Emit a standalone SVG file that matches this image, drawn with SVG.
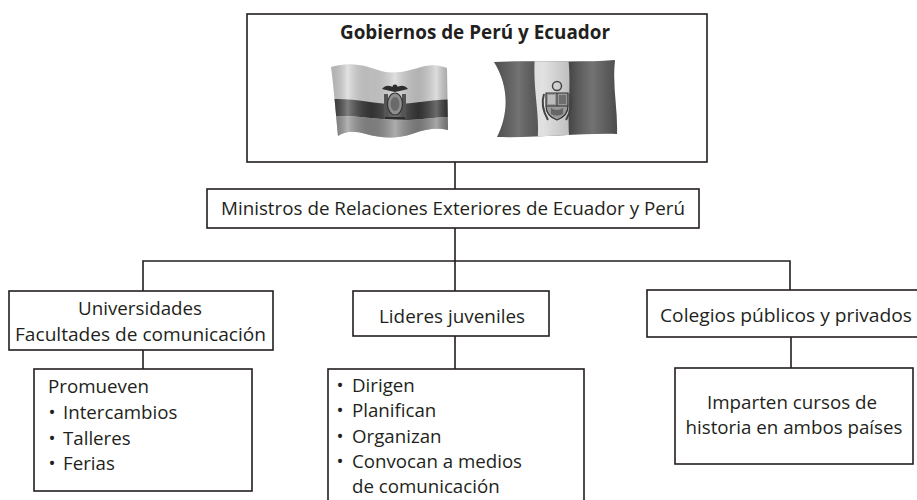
<svg xmlns="http://www.w3.org/2000/svg" width="917" height="500" viewBox="0 0 917 500">
<style>
.box{fill:#fff;stroke:#231f20;stroke-width:1.6}
.ln{fill:none;stroke:#231f20;stroke-width:1.6}
.t{font-family:"Open Sans","Noto Sans","Liberation Sans",sans-serif;font-size:18.7px;fill:#231f20}
.c{text-anchor:middle}
.b{font-weight:bold;font-size:19px}
</style>
<defs>
<clipPath id="ecClip"><path d="M331,67 C348,62 362,64 378,70 C395,76 410,70 425,66 C435,64 442,66 447,68 L448,130 C438,128 428,128 412,134 C398,139 380,138 366,134 C352,130 344,132 338,136 C336,115 334,90 331,67 Z"/></clipPath>
<clipPath id="peClip"><path d="M494,62 C530,60 580,63 615,60 C612,85 618,110 617,134 C580,133 540,138 497,137 C508,115 510,88 494,62 Z"/></clipPath>
<linearGradient id="foldEc" x1="330" y1="0" x2="448" y2="0" gradientUnits="userSpaceOnUse">
<stop offset="0" stop-color="#000" stop-opacity="0.15"/>
<stop offset="0.15" stop-color="#fff" stop-opacity="0.35"/>
<stop offset="0.35" stop-color="#000" stop-opacity="0.1"/>
<stop offset="0.55" stop-color="#fff" stop-opacity="0.3"/>
<stop offset="0.75" stop-color="#000" stop-opacity="0.15"/>
<stop offset="0.9" stop-color="#fff" stop-opacity="0.25"/>
<stop offset="1" stop-color="#000" stop-opacity="0.2"/>
</linearGradient>
<linearGradient id="foldPe" x1="494" y1="0" x2="617" y2="0" gradientUnits="userSpaceOnUse">
<stop offset="0" stop-color="#000" stop-opacity="0.1"/>
<stop offset="0.2" stop-color="#fff" stop-opacity="0.15"/>
<stop offset="0.4" stop-color="#000" stop-opacity="0.05"/>
<stop offset="0.62" stop-color="#000" stop-opacity="0.2"/>
<stop offset="0.8" stop-color="#fff" stop-opacity="0.15"/>
<stop offset="1" stop-color="#000" stop-opacity="0.15"/>
</linearGradient>
</defs>
<rect width="917" height="500" fill="#fff"/>

<g id="connectors">
<path class="ln" d="M455,162V189 M455,228V336 M143,291V261H790V290 M143,350V369 M455,336V369 M791,337V368"/>
</g>

<g id="node-gobiernos">
<rect class="box" x="247" y="14" width="460" height="148"/>
<text class="t c b" x="475" y="39" textLength="270" lengthAdjust="spacingAndGlyphs">Gobiernos de Perú y Ecuador</text>
<g id="flag-ecuador" clip-path="url(#ecClip)">
<rect x="320" y="55" width="140" height="90" fill="#d2d2d2"/>
<path d="M320,100 C350,96 370,104 395,104 C420,104 435,98 460,100 L460,117 C435,116 420,121 395,120 C370,119 350,114 320,117 Z" fill="#3a3a3a"/>
<path d="M320,117 C350,114 370,119 395,120 C420,121 435,116 460,117 L460,145 L320,145 Z" fill="#8a8a8a"/>
<rect x="320" y="55" width="140" height="90" fill="url(#foldEc)"/>
<path d="M382,89 C386,84 391,86 395,88 C399,86 404,84 408,89 C404,90 400,91 395,92 C390,91 386,90 382,89 Z" fill="#2e2e2e"/>
<circle cx="395" cy="87" r="2.5" fill="#2e2e2e"/>
<path d="M384,94 L388,94 L388,116 L384,118 Z M402,94 L406,94 L406,118 L402,116 Z" fill="#555"/>
<ellipse cx="395" cy="104" rx="7.5" ry="11" fill="#8f8f8f" stroke="#333" stroke-width="1.2"/>
<ellipse cx="395" cy="104" rx="4.5" ry="7" fill="#6a6a6a"/>
<path d="M385,118 L405,118" stroke="#2e2e2e" stroke-width="2"/>
</g>
<g id="flag-peru" clip-path="url(#peClip)">
<rect x="480" y="55" width="145" height="90" fill="#5a5a5a"/>
<path d="M535,55 C532,90 541,115 537,145 L570,145 C566,115 572,90 568,55 Z" fill="#ededed"/>
<rect x="480" y="55" width="145" height="90" fill="url(#foldPe)"/>
<circle cx="557" cy="86" r="4.5" fill="none" stroke="#444" stroke-width="1.5"/>
<path d="M546,93 H568 V106 Q568,116 557,120 Q546,116 546,106 Z" fill="#999" stroke="#333" stroke-width="1.2"/>
<path d="M557,93 V106 M546,106 H568" stroke="#333" stroke-width="1"/>
<rect x="548" y="95" width="7" height="9" fill="#bdbdbd"/>
<rect x="559" y="95" width="7" height="9" fill="#6e6e6e"/>
<path d="M551,108 Q557,112 563,108 L563,114 Q557,117 551,114 Z" fill="#666"/>
<path d="M544,94 Q540,106 548,120 M570,94 Q574,106 566,120" fill="none" stroke="#444" stroke-width="2"/>
</g>
</g>

<g id="node-ministros">
<rect class="box" x="207" y="189" width="492" height="39"/>
<text class="t c" x="453" y="215" textLength="464" lengthAdjust="spacingAndGlyphs">Ministros de Relaciones Exteriores de Ecuador y Perú</text>
</g>

<g id="node-universidades">
<rect class="box" x="9" y="291" width="264" height="59"/>
<text class="t c" x="140" y="315" textLength="124" lengthAdjust="spacingAndGlyphs">Universidades</text>
<text class="t c" x="140.5" y="341" textLength="251" lengthAdjust="spacingAndGlyphs">Facultades de comunicación</text>
</g>

<g id="node-promueven">
<rect class="box" x="34" y="369" width="218" height="122"/>
<text class="t" x="48" y="393" textLength="101" lengthAdjust="spacingAndGlyphs">Promueven</text>
<text class="t" y="419"><tspan x="48.5">•</tspan><tspan x="63">Intercambios</tspan></text>
<text class="t" y="445"><tspan x="48.5">•</tspan><tspan x="63">Talleres</tspan></text>
<text class="t" y="470"><tspan x="48.5">•</tspan><tspan x="63">Ferias</tspan></text>
</g>

<g id="node-lideres">
<rect class="box" x="353" y="291" width="196" height="45"/>
<text class="t c" x="452" y="323" textLength="146" lengthAdjust="spacingAndGlyphs">Lideres juveniles</text>
</g>

<g id="node-lideres-acciones">
<rect class="box" x="328" y="369" width="256" height="145"/>
<text class="t" y="392"><tspan x="336.5">•</tspan><tspan x="352">Dirigen</tspan></text>
<text class="t" y="417"><tspan x="336.5">•</tspan><tspan x="352">Planifican</tspan></text>
<text class="t" y="443"><tspan x="336.5">•</tspan><tspan x="352">Organizan</tspan></text>
<text class="t" y="468"><tspan x="336.5">•</tspan><tspan x="352">Convocan a medios</tspan></text>
<text class="t" x="352" y="493">de comunicación</text>
</g>

<g id="node-colegios">
<rect class="box" x="647" y="290" width="280" height="47"/>
<text class="t c" x="786" y="322" textLength="252" lengthAdjust="spacingAndGlyphs">Colegios públicos y privados</text>
</g>

<g id="node-imparten">
<rect class="box" x="675" y="368" width="238" height="96"/>
<text class="t c" x="792" y="409" textLength="170" lengthAdjust="spacingAndGlyphs">Imparten cursos de</text>
<text class="t c" x="794" y="434" textLength="217" lengthAdjust="spacingAndGlyphs">historia en ambos países</text>
</g>
</svg>
